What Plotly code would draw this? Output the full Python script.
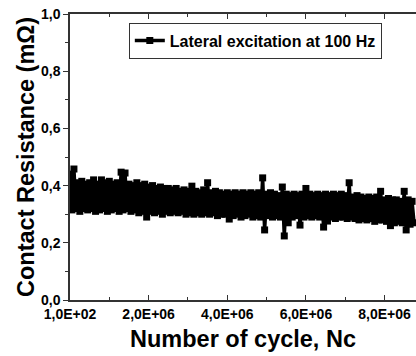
import plotly.graph_objects as go

# Number of cycles (in millions of cycles)
cycles_M = [
    0.0001, 0.05, 0.10, 0.15, 0.20, 0.25, 0.30, 0.35, 0.40, 0.45,
    0.50, 0.55, 0.60, 0.65, 0.70, 0.75, 0.80, 0.85, 0.90, 0.95,
    1.00, 1.05, 1.10, 1.15, 1.20, 1.25, 1.30, 1.35, 1.40, 1.45,
    1.50, 1.55, 1.60, 1.65, 1.70, 1.75, 1.80, 1.85, 1.90, 1.95,
    2.00, 2.05, 2.10, 2.15, 2.20, 2.25, 2.30, 2.35, 2.40, 2.45,
    2.50, 2.55, 2.60, 2.65, 2.70, 2.75, 2.80, 2.85, 2.90, 2.95,
    3.00, 3.05, 3.10, 3.15, 3.20, 3.25, 3.30, 3.35, 3.40, 3.45,
    3.50, 3.55, 3.60, 3.65, 3.70, 3.75, 3.80, 3.85, 3.90, 3.95,
    4.00, 4.05, 4.10, 4.15, 4.20, 4.25, 4.30, 4.35, 4.40, 4.45,
    4.50, 4.55, 4.60, 4.65, 4.70, 4.75, 4.80, 4.85, 4.90, 4.95,
    5.00, 5.05, 5.10, 5.15, 5.20, 5.25, 5.30, 5.35, 5.40, 5.45,
    5.50, 5.55, 5.60, 5.65, 5.70, 5.75, 5.80, 5.85, 5.90, 5.95,
    6.00, 6.05, 6.10, 6.15, 6.20, 6.25, 6.30, 6.35, 6.40, 6.45,
    6.50, 6.55, 6.60, 6.65, 6.70, 6.75, 6.80, 6.85, 6.90, 6.95,
    7.00, 7.05, 7.10, 7.15, 7.20, 7.25, 7.30, 7.35, 7.40, 7.45,
    7.50, 7.55, 7.60, 7.65, 7.70, 7.75, 7.80, 7.85, 7.90, 7.95,
    8.00, 8.05, 8.10, 8.15, 8.20, 8.25, 8.30, 8.35, 8.40, 8.45,
    8.50, 8.55, 8.60, 8.65, 8.70, 8.75,
]

# Contact resistance (mOhm)
resistance = [
    0.440, 0.315, 0.458, 0.320, 0.410, 0.310, 0.415, 0.320, 0.405, 0.315,
    0.410, 0.320, 0.420, 0.310, 0.405, 0.315, 0.420, 0.320, 0.410, 0.310,
    0.415, 0.315, 0.405, 0.320, 0.410, 0.310, 0.447, 0.315, 0.444, 0.320,
    0.405, 0.310, 0.400, 0.315, 0.410, 0.305, 0.400, 0.310, 0.405, 0.290,
    0.395, 0.310, 0.400, 0.305, 0.390, 0.310, 0.395, 0.300, 0.390, 0.310,
    0.390, 0.305, 0.385, 0.310, 0.390, 0.305, 0.380, 0.310, 0.385, 0.300,
    0.380, 0.305, 0.398, 0.300, 0.380, 0.305, 0.375, 0.300, 0.385, 0.305,
    0.410, 0.300, 0.375, 0.305, 0.380, 0.295, 0.375, 0.300, 0.370, 0.300,
    0.375, 0.283, 0.370, 0.295, 0.375, 0.300, 0.370, 0.290, 0.375, 0.295,
    0.370, 0.300, 0.375, 0.290, 0.370, 0.295, 0.375, 0.290, 0.427, 0.245,
    0.370, 0.295, 0.375, 0.290, 0.370, 0.295, 0.365, 0.290, 0.395, 0.224,
    0.370, 0.270, 0.365, 0.290, 0.370, 0.295, 0.365, 0.262, 0.370, 0.290,
    0.390, 0.295, 0.370, 0.290, 0.365, 0.295, 0.370, 0.290, 0.365, 0.255,
    0.370, 0.276, 0.365, 0.290, 0.370, 0.285, 0.365, 0.290, 0.370, 0.290,
    0.365, 0.285, 0.410, 0.290, 0.360, 0.285, 0.365, 0.280, 0.360, 0.285,
    0.355, 0.280, 0.360, 0.285, 0.355, 0.275, 0.360, 0.280, 0.380, 0.280,
    0.350, 0.275, 0.355, 0.260, 0.350, 0.270, 0.350, 0.275, 0.345, 0.270,
    0.380, 0.245, 0.350, 0.265, 0.345, 0.270,
]

x_tick_vals = [1e2, 2e6, 4e6, 6e6, 8e6]
x_tick_text = ["1,0E+02", "2,0E+06", "4,0E+06", "6,0E+06", "8,0E+06"]
y_tick_vals = [0.0, 0.2, 0.4, 0.6, 0.8, 1.0]
y_tick_text = ["0,0", "0,2", "0,4", "0,6", "0,8", "1,0"]

cycles = [v * 1e6 for v in cycles_M]

FONT = "Liberation Sans, Arial, sans-serif"

fig = go.Figure()
fig.add_trace(go.Scatter(
    x=cycles, y=resistance, mode="lines+markers",
    name="<b>Lateral excitation at 100 Hz</b>",
    line=dict(color="black", width=3.5),
    marker=dict(symbol="square", size=7, color="black"),
))

fig.update_layout(
    width=416, height=356,
    margin=dict(l=70, r=0, t=14, b=56, autoexpand=False),
    paper_bgcolor="white", plot_bgcolor="white",
    font=dict(family=FONT, color="black"),
    showlegend=True,
    legend=dict(
        x=0.17, y=0.97, xanchor="left", yanchor="top",
        bgcolor="white", bordercolor="#333", borderwidth=1,
        font=dict(size=16, family=FONT, color="black"),
        itemwidth=30, tracegroupgap=0,
    ),
    xaxis=dict(
        range=[1e2, 8.8e6], automargin=False,
        tickmode="array", tickvals=x_tick_vals,
        ticktext=["<b>%s</b>" % t for t in x_tick_text],
        tickfont=dict(size=14, family=FONT, color="black"),
        ticks="inside", ticklen=5, tickwidth=1, tickcolor="#333",
        showline=True, linecolor="#333", linewidth=1.5, mirror="ticks",
        showgrid=False, zeroline=False,
        minor=dict(ticks="inside", ticklen=3, tickcolor="#333", dtick=1e6, tick0=0, showgrid=False),
        title=dict(text="<b>Number of cycle, Nc</b>", font=dict(size=23.5, family=FONT, color="black"), standoff=10),
    ),
    yaxis=dict(
        range=[0, 1.0], automargin=False,
        tickmode="array", tickvals=y_tick_vals,
        ticktext=["<b>%s</b>" % t for t in y_tick_text],
        tickfont=dict(size=14, family=FONT, color="black"),
        ticks="outside", ticklen=5, tickwidth=1, tickcolor="#333",
        showline=True, linecolor="#333", linewidth=1.5, mirror=True,
        showgrid=False, zeroline=False,
        minor=dict(ticks="outside", ticklen=3, tickcolor="#333", dtick=0.1, tick0=0, showgrid=False),
        title=dict(text="<b>Contact Resistance (mΩ)</b>", font=dict(size=23.5, family=FONT, color="black"), standoff=0),
    ),
)

fig.write_html("out.html", config={"displayModeBar": False},
               post_script="document.body.style.margin='0';")
